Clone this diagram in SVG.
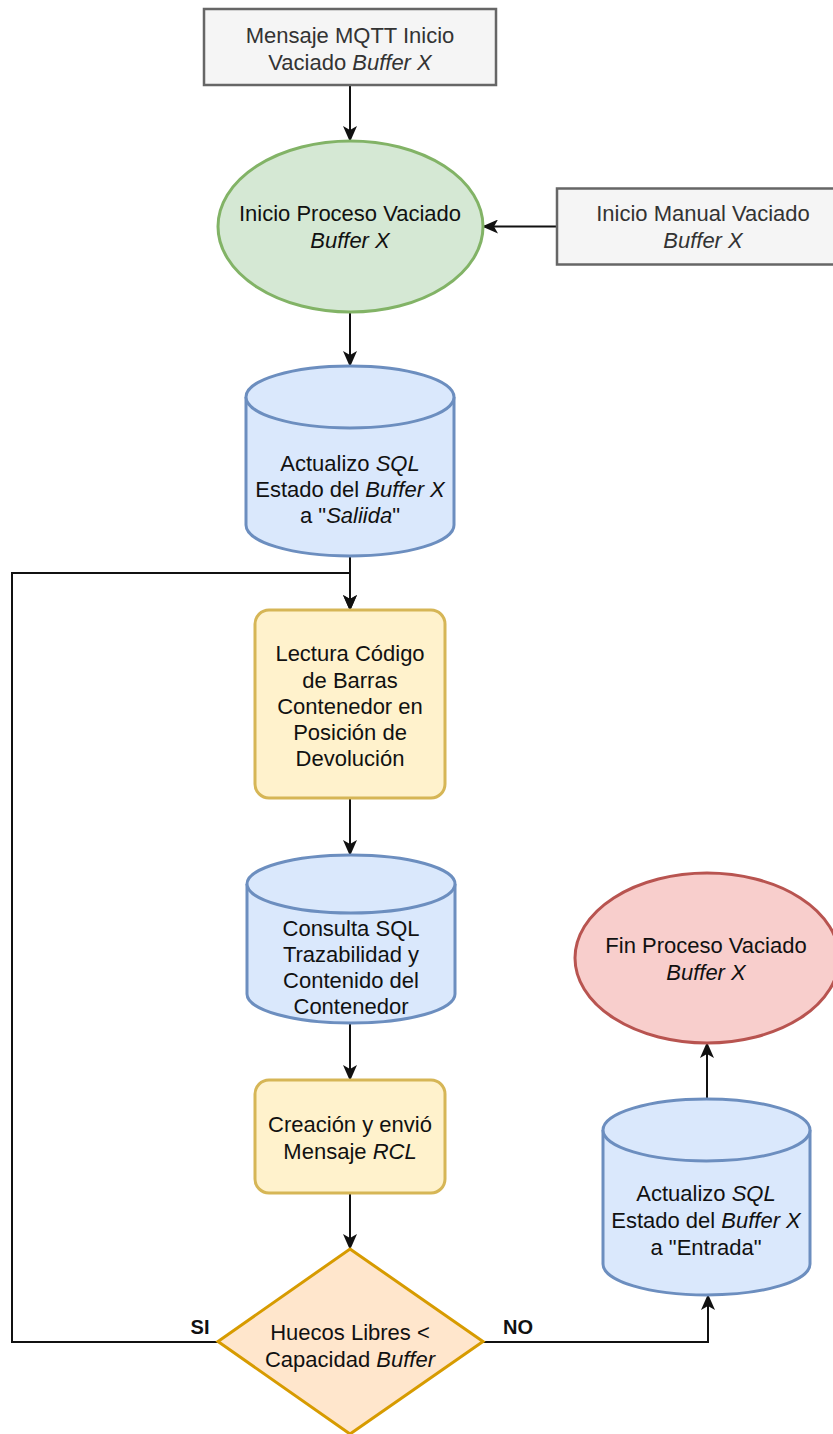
<svg xmlns="http://www.w3.org/2000/svg" width="833" height="1434" viewBox="0 0 833 1434">
<style>
text{font-family:"Liberation Sans",Arial,sans-serif;font-size:22px;fill:#111;text-anchor:middle}
.gt{fill:#333}
.i{font-style:italic}
.lbl{font-weight:bold;font-size:20px}
.gray{fill:#f5f5f5;stroke:#666;stroke-width:2.5}
.green{fill:#d5e8d4;stroke:#82b366;stroke-width:3}
.blue{fill:#dae8fc;stroke:#6c8ebf;stroke-width:3}
.yel{fill:#fff2cc;stroke:#d6b656;stroke-width:3}
.red{fill:#f8cecc;stroke:#b85450;stroke-width:3}
.ora{fill:#ffe6cc;stroke:#d79b00;stroke-width:3}
.edge{fill:none;stroke:#111;stroke-width:2;marker-end:url(#arr)}
</style>
<defs>
<marker id="arr" markerUnits="userSpaceOnUse" markerWidth="16" markerHeight="14" viewBox="0 0 16 14" refX="15" refY="7" orient="auto">
<path d="M0,0 L16,7 L0,14 L4,7 Z" fill="#111"/>
</marker>
</defs>
<rect width="833" height="1434" fill="#fff"/>
<g id="connectors">
<path class="edge" d="M350,85 V141"/>
<path class="edge" d="M557,226.5 H483"/>
<path class="edge" d="M350,312 V366"/>
<path class="edge" d="M350,556 V610"/>
<path class="edge" d="M350,798 V855"/>
<path class="edge" d="M350,1023 V1080"/>
<path class="edge" d="M350,1193 V1249"/>
<path class="edge" d="M218,1342 H12 V573 H350 V610"/>
<path class="edge" d="M483,1342 H708 V1295"/>
<path class="edge" d="M707,1099 V1043"/>
<text class="lbl" x="200" y="1334">SI</text>
<text class="lbl" x="518" y="1334">NO</text>
</g>
<g id="mqtt">
<rect class="gray" x="204" y="9" width="292" height="76"/>
<text class="gt" x="350" y="43">Mensaje MQTT Inicio</text>
<text class="gt" x="350" y="70">Vaciado <tspan class="i">Buffer X</tspan></text>
</g>
<g id="inicio">
<ellipse class="green" cx="350.5" cy="226.5" rx="132.5" ry="85.5"/>
<text x="350" y="221">Inicio Proceso Vaciado</text>
<text x="350" y="248" class="i">Buffer X</text>
</g>
<g id="manual">
<rect class="gray" x="557" y="188.5" width="292" height="76"/>
<text class="gt" x="703" y="221">Inicio Manual Vaciado</text>
<text class="gt i" x="703" y="248">Buffer X</text>
</g>
<g id="sql1">
<path class="blue" d="M246,397 A104,31 0 0 1 454,397 V525 A104,31 0 0 1 246,525 Z"/>
<path class="blue" d="M246,397 A104,31 0 0 0 454,397" fill="none"/>
<text x="350" y="471">Actualizo <tspan class="i">SQL</tspan></text>
<text x="350" y="497">Estado del <tspan class="i">Buffer X</tspan></text>
<text x="350" y="523">a "<tspan class="i">Saliida</tspan>"</text>
</g>
<g id="lectura">
<rect class="yel" x="255" y="610" width="190" height="188" rx="14"/>
<text x="350" y="661">Lectura Código</text>
<text x="350" y="688">de Barras</text>
<text x="350" y="714">Contenedor en</text>
<text x="350" y="740">Posición de</text>
<text x="350" y="766">Devolución</text>
</g>
<g id="sql2">
<path class="blue" d="M247,884 A104,29 0 0 1 455,884 V994 A104,29 0 0 1 247,994 Z"/>
<path class="blue" d="M247,884 A104,29 0 0 0 455,884" fill="none"/>
<text x="351" y="936">Consulta SQL</text>
<text x="351" y="962">Trazabilidad y</text>
<text x="351" y="988">Contenido del</text>
<text x="351" y="1014">Contenedor</text>
</g>
<g id="creacion">
<rect class="yel" x="255" y="1080" width="190" height="113" rx="14"/>
<text x="350" y="1132">Creación y envió</text>
<text x="350" y="1159">Mensaje <tspan class="i">RCL</tspan></text>
</g>
<g id="decision">
<polygon class="ora" points="350,1249 483,1341.5 350,1434 218,1341.5"/>
<text x="350" y="1340">Huecos Libres &lt;</text>
<text x="350" y="1367">Capacidad <tspan class="i">Buffer</tspan></text>
</g>
<g id="sql3">
<path class="blue" d="M603,1130 A103.5,31 0 0 1 810,1130 V1264 A103.5,31 0 0 1 603,1264 Z"/>
<path class="blue" d="M603,1130 A103.5,31 0 0 0 810,1130" fill="none"/>
<text x="706" y="1201">Actualizo <tspan class="i">SQL</tspan></text>
<text x="706" y="1228">Estado del <tspan class="i">Buffer X</tspan></text>
<text x="706" y="1255">a "Entrada"</text>
</g>
<g id="fin">
<ellipse class="red" cx="707" cy="958" rx="132" ry="85"/>
<text x="706" y="953">Fin Proceso Vaciado</text>
<text x="706" y="980" class="i">Buffer X</text>
</g>
</svg>
